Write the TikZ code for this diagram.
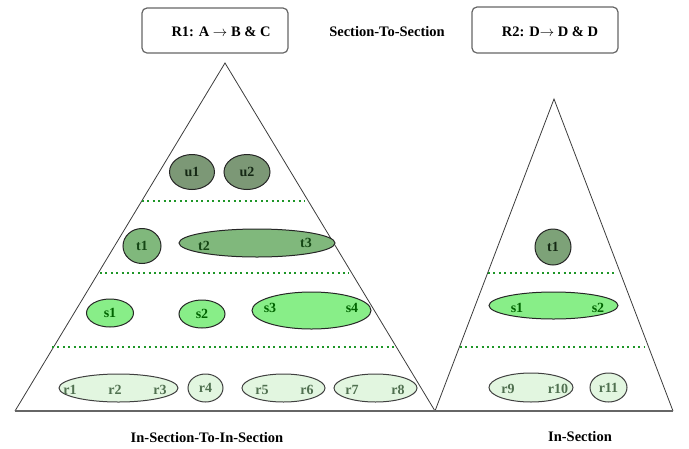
\documentclass[tikz,border=0pt]{standalone}
\usepackage{fontspec}
\setmainfont{Liberation Serif}
\usetikzlibrary{shapes.geometric}
\definecolor{ufill}{RGB}{124,152,118}
\definecolor{tfill}{RGB}{128,184,124}
\definecolor{sfill}{RGB}{136,238,136}
\definecolor{rfill}{RGB}{226,246,224}
\definecolor{utext}{RGB}{20,40,20}
\definecolor{ttext}{RGB}{20,70,20}
\definecolor{stext}{RGB}{0,100,0}
\definecolor{rtext}{RGB}{80,112,80}
\definecolor{dotgreen}{RGB}{30,150,40}
\definecolor{edgegray}{RGB}{60,60,60}
\tikzset{
  x=1pt,y=-1pt,
  blob/.style={draw=black!85, line width=1pt, ellipse, inner sep=0pt},
  ublob/.style={blob, fill=ufill},
  tblob/.style={blob, fill=tfill},
  sblob/.style={blob, fill=sfill},
  rblob/.style={blob, fill=rfill, draw=black!75},
  lbl/.style={font=\bfseries\fontsize{14}{14}\selectfont, inner sep=0pt},
  ulbl/.style={lbl, text=utext},
  tlbl/.style={lbl, text=ttext},
  slbl/.style={lbl, text=stext},
  rlbl/.style={lbl, text=rtext},
  rulebox/.style={draw=black!60, line width=1.2pt, rounded corners=5pt, fill=white},
  title/.style={font=\bfseries\fontsize{14.5}{14.5}\selectfont, inner sep=0pt},
  dotline/.style={dotgreen, line width=2pt, dash pattern=on 2pt off 3.4pt},
  tri/.style={edgegray, line width=0.8pt},
  baseline/.style={black!60, line width=1.6pt}
}
\begin{document}
\begin{tikzpicture}
\useasboundingbox (0,0) rectangle (689,448);
% boxes and titles
\draw[rulebox] (142,8) rectangle (288,53);
\node[title] (r1) at (221,32) {R1: A $\rightarrow$ B \& C};
\draw[rulebox] (472,7) rectangle (618,53);
\node[title] (r2) at (550,32) {R2: D$\rightarrow$ D \& D};
\node[title] (sts) at (387,32) {Section-To-Section};
\node[title] (itis) at (207,438) {In-Section-To-In-Section};
\node[title] (ins) at (580,437) {In-Section};
% triangles
\coordinate (LA) at (225,63);
\coordinate (LL) at (15,411);
\coordinate (LR) at (435,411);
\coordinate (RA) at (554,99);
\coordinate (RR) at (673,411);
\draw[tri] (LL) -- (LA) -- (LR) -- (RA) -- (RR);
\draw[baseline] (LL) -- (RR);
% dotted separators
\coordinate (d1a) at (142,201); \coordinate (d1b) at (305,201);
\coordinate (d2a) at (100,273); \coordinate (d2b) at (349,273);
\coordinate (d3a) at (52,347);  \coordinate (d3b) at (396,347);
\coordinate (d4a) at (488,273); \coordinate (d4b) at (616,273);
\coordinate (d5a) at (460,347); \coordinate (d5b) at (644,347);
\draw[dotline] (d1a) -- (d1b);
\draw[dotline] (d2a) -- (d2b);
\draw[dotline] (d3a) -- (d3b);
\draw[dotline] (d4a) -- (d4b);
\draw[dotline] (d5a) -- (d5b);
% left pyramid blobs
\node[ublob, minimum width=45, minimum height=35] (u1) at (192,172) {};
\node[ulbl] at (u1) {u1};
\node[ublob, minimum width=46, minimum height=35] (u2) at (247,172) {};
\node[ulbl] at (u2) {u2};
\node[tblob, minimum width=38, minimum height=35] (t1) at (142,246) {};
\node[tlbl] at (t1) {t1};
\node[tblob, minimum width=156, minimum height=28] (t23) at (257,243) {};
\node[tlbl] (t2) at (204,246) {t2};
\node[tlbl] (t3) at (306,243) {t3};
\node[sblob, minimum width=47, minimum height=28] (s1) at (110,313) {};
\node[slbl] at (s1) {s1};
\node[sblob, minimum width=46, minimum height=28] (s2) at (202,314) {};
\node[slbl] at (s2) {s2};
\node[sblob, minimum width=119, minimum height=37] (s34) at (311.5,310.5) {};
\node[slbl] (s3) at (270,308) {s3};
\node[slbl] (s4) at (352,308) {s4};
\node[rblob, minimum width=119, minimum height=28] (r123) at (118.5,388) {};
\node[rlbl] (rr1) at (70,390) {r1};
\node[rlbl] (rr2) at (115,390) {r2};
\node[rlbl] (rr3) at (160,390) {r3};
\node[rblob, minimum width=35, minimum height=28] (r4) at (205.5,388) {};
\node[rlbl] at (r4) {r4};
\node[rblob, minimum width=83, minimum height=28] (r56) at (283.5,388) {};
\node[rlbl] (rr5) at (262,390) {r5};
\node[rlbl] (rr6) at (307,390) {r6};
\node[rblob, minimum width=83, minimum height=28] (r78) at (375.5,388) {};
\node[rlbl] (rr7) at (352,390) {r7};
\node[rlbl] (rr8) at (398,390) {r8};
% right pyramid blobs
\node[ublob, fill=ufill!70!tfill, minimum width=36, minimum height=36] (rt1) at (553,247) {};
\node[ulbl] at (rt1) {t1};
\node[sblob, minimum width=129, minimum height=27] (rs12) at (553.5,305.5) {};
\node[slbl] (rs1) at (517,308) {s1};
\node[slbl] (rs2) at (598,308) {s2};
\node[rblob, minimum width=84, minimum height=29] (r910) at (531,387.5) {};
\node[rlbl] (rr9) at (508,389) {r9};
\node[rlbl] (rr10) at (558,389) {r10};
\node[rblob, minimum width=37, minimum height=29] (r11) at (608.5,387.5) {};
\node[rlbl] at (r11) {r11};
\end{tikzpicture}
\end{document}
